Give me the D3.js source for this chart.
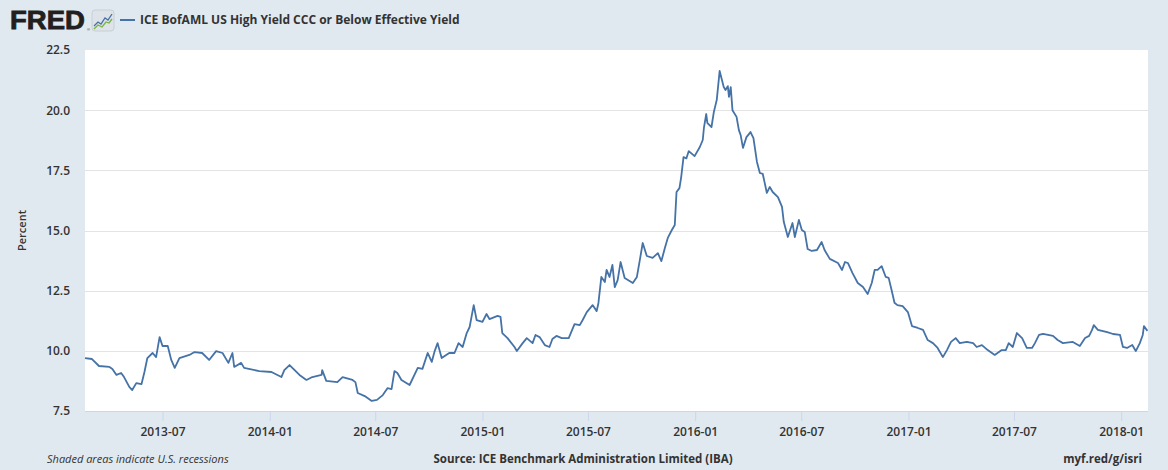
<!DOCTYPE html>
<html>
<head>
<meta charset="utf-8">
<script src="https://cdn.jsdelivr.net/npm/d3@7"></script>
<style>
  body { margin: 0; background: #e1e9f0; }
  svg { display: block; }
</style>
</head>
<body>
<div id="chart"></div>
<script>
// Values (weekly-ish samples)
const dates = [
  "2013-02-18","2013-03-02","2013-03-14","2013-04-01","2013-04-06","2013-04-13","2013-04-21","2013-04-26",
  "2013-05-05","2013-05-10","2013-05-17","2013-05-26","2013-05-31","2013-06-05","2013-06-14","2013-06-20",
  "2013-06-26","2013-07-01","2013-07-10","2013-07-16","2013-07-22","2013-07-30","2013-08-16","2013-08-25",
  "2013-09-07","2013-09-19","2013-10-01","2013-10-12","2013-10-22","2013-10-29","2013-11-01","2013-11-13",
  "2013-11-18","2013-12-14","2014-01-04","2014-01-21","2014-01-26","2014-02-04","2014-02-21","2014-03-05",
  "2014-03-15","2014-03-31","2014-04-01","2014-04-08","2014-04-27","2014-05-06","2014-05-23","2014-05-28",
  "2014-06-01","2014-06-13","2014-06-25","2014-07-04","2014-07-14","2014-07-22","2014-07-29","2014-08-03",
  "2014-08-08","2014-08-15","2014-08-29","2014-09-12","2014-09-20","2014-09-29","2014-10-06","2014-10-11",
  "2014-10-16","2014-10-23","2014-11-05","2014-11-14","2014-11-21","2014-11-28","2014-12-05","2014-12-10",
  "2014-12-17","2014-12-22","2015-01-01","2015-01-08","2015-01-13","2015-01-27","2015-02-01","2015-02-04",
  "2015-02-13","2015-02-25","2015-03-01","2015-03-11","2015-03-18","2015-03-28","2015-04-02","2015-04-09",
  "2015-04-18","2015-04-26","2015-05-01","2015-05-08","2015-05-17","2015-05-29","2015-06-08","2015-06-17",
  "2015-06-22","2015-06-29","2015-07-09","2015-07-16","2015-07-19","2015-07-24","2015-07-30","2015-08-02",
  "2015-08-07","2015-08-12","2015-08-16","2015-08-21","2015-08-26","2015-09-02","2015-09-16","2015-09-23",
  "2015-09-28","2015-10-03","2015-10-10","2015-10-20","2015-10-29","2015-11-04","2015-11-10","2015-11-15",
  "2015-11-22","2015-11-27","2015-11-30","2015-12-05","2015-12-08","2015-12-12","2015-12-17","2015-12-21",
  "2015-12-31","2016-01-09","2016-01-14","2016-01-16","2016-01-20","2016-01-22","2016-01-29","2016-02-02",
  "2016-02-07","2016-02-12","2016-02-19","2016-02-22","2016-02-26","2016-02-28","2016-03-02","2016-03-05",
  "2016-03-12","2016-03-16","2016-03-19","2016-03-23","2016-03-29","2016-04-05","2016-04-10","2016-04-16",
  "2016-04-21","2016-04-26","2016-05-03","2016-05-08","2016-05-13","2016-05-22","2016-05-29","2016-06-01",
  "2016-06-08","2016-06-16","2016-06-20","2016-06-27","2016-07-02","2016-07-07","2016-07-12","2016-07-19",
  "2016-07-28","2016-08-05","2016-08-10","2016-08-19","2016-09-02","2016-09-09","2016-09-14","2016-09-19",
  "2016-09-27","2016-10-06","2016-10-15","2016-10-23","2016-10-30","2016-11-04","2016-11-09","2016-11-16",
  "2016-11-23","2016-11-28","2016-12-03","2016-12-08","2016-12-13","2016-12-22","2016-12-31","2017-01-07",
  "2017-01-17","2017-01-26","2017-02-03","2017-02-12","2017-02-20","2017-03-01","2017-03-08","2017-03-15",
  "2017-03-23","2017-03-30","2017-04-11","2017-04-22","2017-04-28","2017-05-07","2017-05-17","2017-05-29",
  "2017-06-10","2017-06-17","2017-06-22","2017-06-29","2017-07-06","2017-07-15","2017-07-23","2017-08-01",
  "2017-08-06","2017-08-13","2017-08-20","2017-09-06","2017-09-14","2017-09-23","2017-10-10","2017-10-22",
  "2017-10-31","2017-11-07","2017-11-12","2017-11-15","2017-11-22","2017-12-08","2017-12-18","2017-12-30",
  "2018-01-04","2018-01-11","2018-01-20","2018-01-26","2018-02-02","2018-02-07","2018-02-09","2018-02-15"
];

const yields = [
  9.70, 9.66, 9.37, 9.33, 9.25, 9.00, 9.08, 8.91,
  8.50, 8.37, 8.66, 8.62, 9.12, 9.70, 9.91, 9.74,
  10.57, 10.20, 10.20, 9.62, 9.29, 9.70, 9.83, 9.95,
  9.91, 9.62, 9.99, 9.91, 9.50, 9.91, 9.33, 9.50,
  9.29, 9.16, 9.12, 8.91, 9.20, 9.41, 9.00, 8.79,
  8.91, 9.00, 9.20, 8.75, 8.70, 8.91, 8.79, 8.70,
  8.25, 8.12, 7.92, 7.96, 8.16, 8.45, 8.41, 9.16,
  9.08, 8.79, 8.58, 9.29, 9.25, 9.91, 9.54, 9.99,
  10.32, 9.70, 9.91, 9.91, 10.32, 10.16, 10.74, 10.99,
  11.90, 11.28, 11.20, 11.53, 11.32, 11.45, 11.41, 10.74,
  10.53, 10.16, 9.99, 10.32, 10.53, 10.32, 10.66, 10.57,
  10.24, 10.16, 10.49, 10.62, 10.53, 10.53, 11.11, 11.07,
  11.28, 11.61, 11.90, 11.65, 11.99, 13.07, 12.86, 13.36,
  13.07, 13.57, 12.65, 12.94, 13.69, 13.03, 12.82, 13.07,
  13.77, 14.48, 13.94, 13.86, 14.06, 13.73, 14.27, 14.69,
  15.02, 15.23, 16.60, 16.76, 17.22, 18.05, 18.00, 18.30,
  18.09, 18.47, 18.76, 19.26, 19.84, 19.46, 19.30, 19.92,
  20.42, 21.63, 20.96, 20.84, 21.00, 20.55, 20.96, 20.00,
  19.72, 19.17, 18.97, 18.43, 18.88, 19.09, 18.84, 17.85,
  17.39, 17.35, 16.56, 16.81, 16.60, 16.39, 15.98, 15.36,
  14.73, 15.31, 14.73, 15.44, 15.02, 14.94, 14.23, 14.15,
  14.19, 14.52, 14.19, 13.82, 13.65, 13.36, 13.69, 13.65,
  13.23, 12.82, 12.65, 12.36, 12.82, 13.36, 13.36, 13.52,
  13.07, 13.03, 12.53, 12.00, 11.90, 11.86, 11.61, 11.03,
  10.95, 10.87, 10.45, 10.32, 10.12, 9.74, 10.03, 10.37,
  10.53, 10.32, 10.37, 10.32, 10.16, 10.24, 10.03, 9.83,
  10.03, 10.03, 10.32, 10.16, 10.74, 10.53, 10.12, 10.12,
  10.32, 10.66, 10.70, 10.62, 10.45, 10.32, 10.37, 10.20,
  10.53, 10.62, 10.87, 11.07, 10.87, 10.78, 10.70, 10.66,
  10.16, 10.12, 10.24, 9.99, 10.32, 10.66, 11.03, 10.83
];

const yTicks = [7.5, 10.0, 12.5, 15.0, 17.5, 20.0, 22.5];
const xTicks = ["2013-07-01","2014-01-01","2014-07-01","2015-01-01","2015-07-01",
                "2016-01-01","2016-07-01","2017-01-01","2017-07-01","2018-01-01"];
const xDomain = ["2013-02-18", "2018-02-16"];

const seriesName = "ICE BofAML US High Yield CCC or Below Effective Yield";

const W = 1168, H = 470;
const plot = { left: 85, right: 1148, top: 50, bottom: 411 };
const font = "'Open Sans', 'Liberation Sans', Arial, sans-serif";
const lineColor = "#4572a7";

const parse = d3.timeParse("%Y-%m-%d");
const data = dates.map((d, i) => ({ date: parse(d), value: yields[i] }));

const svg = d3.select("#chart").append("svg")
  .attr("width", W)
  .attr("height", H)
  .style("font-family", font);

svg.append("rect").attr("width", W).attr("height", H).attr("fill", "#e1e9f0");

const x = d3.scaleTime()
  .domain(xDomain.map(parse))
  .range([plot.left, plot.right]);

const y = d3.scaleLinear()
  .domain([7.5, 22.5])
  .range([plot.bottom, plot.top]);

// plot background
svg.append("rect")
  .attr("x", plot.left)
  .attr("y", plot.top)
  .attr("width", plot.right - plot.left)
  .attr("height", plot.bottom - plot.top)
  .attr("fill", "#ffffff");

// horizontal gridlines
svg.append("g")
  .selectAll("line")
  .data(yTicks.slice(1, -1))
  .join("line")
  .attr("x1", plot.left)
  .attr("x2", plot.right)
  .attr("y1", d => Math.round(y(d)) + 0.5)
  .attr("y2", d => Math.round(y(d)) + 0.5)
  .attr("stroke", "#e3e3e3")
  .attr("stroke-width", 1);

// y axis labels
const yAxis = svg.append("g")
  .attr("transform", `translate(${plot.left}, 0)`)
  .call(d3.axisLeft(y).tickValues(yTicks).tickFormat(d3.format(".1f")).tickSize(0).tickPadding(15));
yAxis.select(".domain").remove();
yAxis.selectAll("text")
  .style("font-family", font)
  .style("font-size", "12px")
  .style("font-weight", "600")
  .attr("fill", "#333");

// x axis
const xAxis = svg.append("g")
  .attr("transform", `translate(0, ${plot.bottom})`)
  .call(d3.axisBottom(x).tickValues(xTicks.map(parse)).tickFormat(d3.timeFormat("%Y-%m")).tickSize(10).tickPadding(6));
xAxis.select(".domain")
  .attr("stroke", "#ccd6eb")
  .attr("d", `M${plot.left},0.5H${plot.right}`);
xAxis.selectAll(".tick line").attr("stroke", "#ccd6eb");
xAxis.selectAll("text")
  .style("font-family", font)
  .style("font-size", "12px")
  .style("font-weight", "600")
  .attr("fill", "#333");

// y axis title
svg.append("text")
  .attr("transform", `translate(26, ${(plot.top + plot.bottom) / 2}) rotate(-90)`)
  .attr("text-anchor", "middle")
  .style("font-size", "11px")
  .style("font-weight", "600")
  .attr("fill", "#333")
  .text("Percent");

// the series
const line = d3.line()
  .x(d => x(d.date))
  .y(d => y(d.value));

svg.append("path")
  .datum(data)
  .attr("fill", "none")
  .attr("stroke", lineColor)
  .attr("stroke-width", 1.8)
  .attr("stroke-linejoin", "round")
  .attr("d", line);

// FRED logo
svg.append("text")
  .attr("transform", "translate(10, 29) scale(1.1, 1)")
  .style("font-family", "'Liberation Sans', Arial, sans-serif")
  .style("font-size", "25px")
  .style("font-weight", "bold")
  .attr("fill", "#231f20")
  .attr("stroke", "#231f20")
  .attr("stroke-width", 0.8)
  .text("FRED");

svg.append("text")
  .attr("x", 87)
  .attr("y", 31)
  .style("font-family", "'Liberation Sans', Arial, sans-serif")
  .style("font-size", "4px")
  .attr("fill", "#231f20")
  .text("®");

const icon = svg.append("g").attr("transform", "translate(92, 10)");
icon.append("rect")
  .attr("width", 22).attr("height", 21).attr("rx", 3)
  .attr("fill", "#dde3e8").attr("stroke", "#c8d0d6");
icon.append("path")
  .attr("d", "M2,16 L6,12 L9,14 L13,8 L16,10 L20,4")
  .attr("fill", "none").attr("stroke", "#4572a7").attr("stroke-width", 1.3);
icon.append("path")
  .attr("d", "M2,19 L6,15 L10,17 L14,12 L17,13 L20,9")
  .attr("fill", "none").attr("stroke", "#7cb342").attr("stroke-width", 1.3);

// legend
svg.append("line")
  .attr("x1", 120).attr("x2", 135)
  .attr("y1", 20).attr("y2", 20)
  .attr("stroke", lineColor)
  .attr("stroke-width", 2);

svg.append("text")
  .attr("x", 140)
  .attr("y", 24)
  .style("font-size", "12px")
  .style("font-weight", "bold")
  .attr("fill", "#333")
  .text(seriesName);

// footer
svg.append("text")
  .attr("x", 47)
  .attr("y", 463)
  .style("font-size", "11px")
  .style("font-style", "italic")
  .attr("fill", "#333")
  .text("Shaded areas indicate U.S. recessions");

svg.append("text")
  .attr("x", 583)
  .attr("y", 463)
  .attr("text-anchor", "middle")
  .style("font-size", "11.5px")
  .style("font-weight", "bold")
  .attr("fill", "#333")
  .text("Source: ICE Benchmark Administration Limited (IBA)");

svg.append("text")
  .attr("x", 1142)
  .attr("y", 463)
  .attr("text-anchor", "end")
  .style("font-size", "11.5px")
  .style("font-weight", "bold")
  .attr("fill", "#333")
  .text("myf.red/g/isri");
</script>
</body>
</html>
